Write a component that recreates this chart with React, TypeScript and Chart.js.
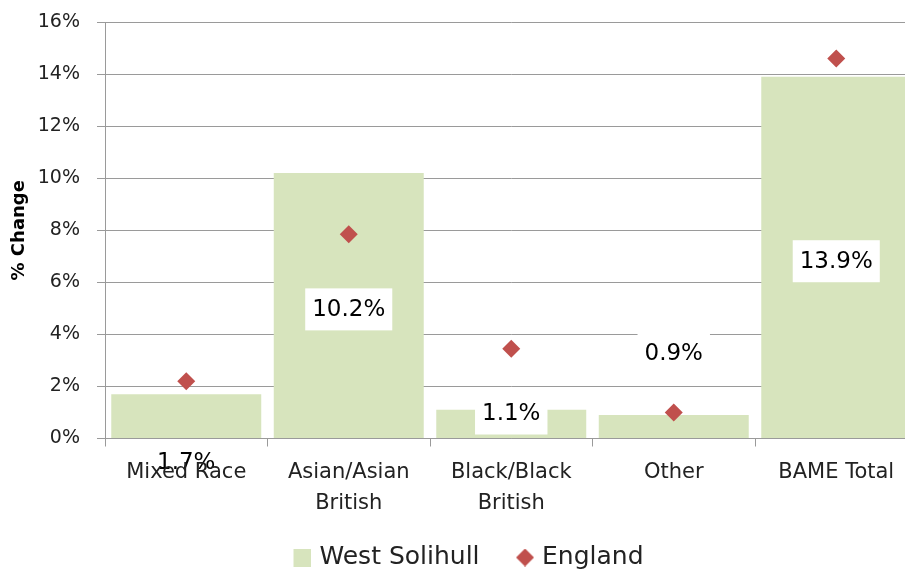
import React, { useEffect, useRef } from "react";
import { Chart, registerables } from "chart.js";

Chart.register(...registerables);

const categories: (string | string[])[] = [
  "Mixed Race",
  ["Asian/Asian", "British"],
  ["Black/Black", "British"],
  "Other",
  "BAME Total",
];
const westSolihull = [1.7, 10.2, 1.1, 0.9, 13.9];
const england = [2.2, 7.85, 3.45, 1.0, 14.6];
// where each value label sits, in axis units
const labelAnchor = [-0.92, 4.96, 0.96, 3.27, 6.81];
const yTicks = [0, 2, 4, 6, 8, 10, 12, 14, 16];

const BAR = "#d7e4bd";
const DOT = "#c0504d";
const GRID = "#9a9a9a";
const TEXT = "#222222";
const FONT = '"DejaVu Sans", Verdana, sans-serif';

// legend glyph images: 34x18 with the 18px glyph on the right side
function makeSquare(): HTMLCanvasElement {
  const c = document.createElement("canvas");
  c.width = 34;
  c.height = 18;
  const g = c.getContext("2d")!;
  g.fillStyle = BAR;
  g.fillRect(16, 0, 18, 18);
  return c;
}
function makeDiamond(): HTMLCanvasElement {
  const c = document.createElement("canvas");
  c.width = 34;
  c.height = 18;
  const g = c.getContext("2d")!;
  g.fillStyle = DOT;
  g.beginPath();
  g.moveTo(25, 0);
  g.lineTo(34, 9);
  g.lineTo(25, 18);
  g.lineTo(16, 9);
  g.closePath();
  g.fill();
  return c;
}

const valueLabels = {
  id: "valueLabels",
  afterDatasetsDraw(chart: any) {
    const meta = chart.getDatasetMeta(0);
    const y = chart.scales.y;
    const ctx = chart.ctx;
    ctx.save();
    ctx.font = `23px ${FONT}`;
    ctx.textAlign = "center";
    ctx.textBaseline = "middle";
    meta.data.forEach((bar: any, i: number) => {
      const text = westSolihull[i].toFixed(1) + "%";
      const cy = y.getPixelForValue(labelAnchor[i]);
      const w = ctx.measureText(text).width + 14;
      const h = 42;
      ctx.fillStyle = "#ffffff";
      ctx.fillRect(bar.x - w / 2, cy - h / 2, w, h);
      ctx.fillStyle = "#000000";
      ctx.fillText(text, bar.x, cy + 1);
    });
    ctx.restore();
  },
};

export default function App() {
  const ref = useRef<HTMLCanvasElement>(null);
  useEffect(() => {
    if (!ref.current) return;
    const square = makeSquare();
    const diamond = makeDiamond();
    const chart = new Chart(ref.current, {
      type: "bar",
      data: {
        labels: categories,
        datasets: [
          {
            type: "bar",
            label: "West Solihull",
            data: westSolihull,
            backgroundColor: BAR,
            borderWidth: 0,
            barPercentage: 0.923,
            categoryPercentage: 1,
            order: 2,
          },
          {
            type: "line",
            label: "England",
            data: england,
            showLine: false,
            pointStyle: "rectRot",
            pointRadius: 9,
            pointHoverRadius: 9,
            pointBackgroundColor: DOT,
            pointBorderWidth: 0,
            borderColor: DOT,
            backgroundColor: DOT,
            order: 1,
          } as any,
        ],
      },
      options: {
        responsive: false,
        animation: false,
        devicePixelRatio: 1,
        layout: { padding: { top: 22, left: 8, right: 18.5, bottom: 0 } },
        plugins: {
          tooltip: { enabled: false },
          legend: {
            position: "bottom",
            labels: {
              usePointStyle: true,
              boxWidth: 25,
              padding: 25,
              color: TEXT,
              font: { family: FONT, size: 25 },
              generateLabels: () => [
                {
                  text: "West Solihull",
                  pointStyle: square,
                  fillStyle: BAR,
                  strokeStyle: BAR,
                  lineWidth: 0,
                  hidden: false,
                  datasetIndex: 0,
                  fontColor: TEXT,
                } as any,
                {
                  text: "England",
                  pointStyle: diamond,
                  fillStyle: DOT,
                  strokeStyle: DOT,
                  lineWidth: 0,
                  hidden: false,
                  datasetIndex: 1,
                  fontColor: TEXT,
                } as any,
              ],
            },
          },
        },
        scales: {
          x: {
            offset: true,
            grid: {
              offset: true,
              drawOnChartArea: false,
              drawTicks: true,
              tickLength: 8,
              color: GRID,
            },
            border: { color: GRID, width: 1 },
            ticks: {
              z: 1,
              color: TEXT,
              padding: 10,
              maxRotation: 0,
              autoSkip: false,
              font: { family: FONT, size: 21, lineHeight: 1.5 },
            },
            afterFit: (s: any) => {
              s.height = 81.5;
            },
          },
          y: {
            min: 0,
            max: 16,
            afterBuildTicks: (s: any) => {
              s.ticks = yTicks.map((v) => ({ value: v }));
            },
            grid: { color: GRID, tickLength: 8, drawTicks: true },
            border: { color: GRID, width: 1 },
            ticks: {
              color: TEXT,
              padding: 17,
              font: { family: FONT, size: 19 },
              callback: (v: any) => v + "%",
            },
            title: {
              display: true,
              text: "% Change",
              color: "#000",
              padding: { top: 1, bottom: 0 },
              font: { family: FONT, size: 18, weight: "bold" },
            },
            afterFit: (s: any) => {
              s.width = 97;
              s.paddingTop = 0;
              s.paddingBottom = 0;
            },
          },
        },
      },
      plugins: [valueLabels],
    } as any);
    return () => chart.destroy();
  }, []);

  return (
    <div
      style={{
        position: "fixed",
        left: 0,
        top: 0,
        width: 905,
        height: 571,
        overflow: "hidden",
        background: "#fff",
      }}
    >
      <canvas ref={ref} width={936} height={580} style={{ display: "block" }} />
    </div>
  );
}
